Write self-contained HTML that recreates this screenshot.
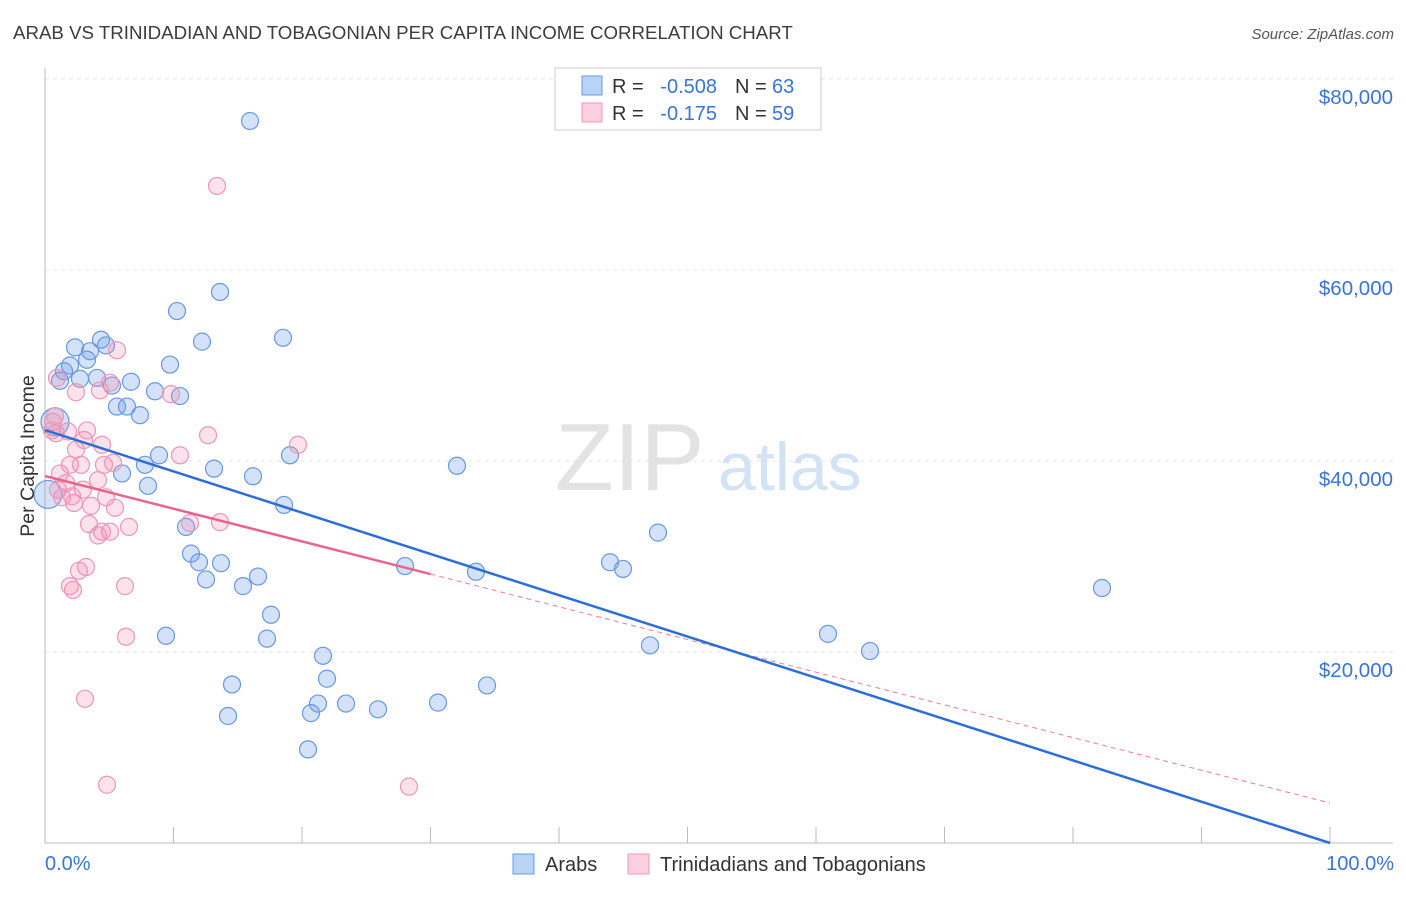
<!DOCTYPE html>
<html><head><meta charset="utf-8"><style>
body{margin:0;background:#fff;font-family:"Liberation Sans",sans-serif;}
svg text{font-family:"Liberation Sans",sans-serif;}
</style></head><body>
<svg id="chart" width="1406" height="892" xmlns="http://www.w3.org/2000/svg">
<text x="13" y="39" font-size="18.7" fill="#3c3c3c">ARAB VS TRINIDADIAN AND TOBAGONIAN PER CAPITA INCOME CORRELATION CHART</text>
<text x="1394" y="39" font-size="15" fill="#555" text-anchor="end" font-style="italic">Source: ZipAtlas.com</text>
<g id="grid"></g>
<text x="555" y="490" font-size="96" fill="#ddd" font-family="Liberation Serif" opacity="0.8">ZIP</text>
<text x="718" y="490" font-size="68" fill="#c9dcf3" opacity="0.8">atlas</text>
<g id="marks"></g>
<text transform="translate(34,456) rotate(-90)" font-size="19.5" fill="#333" text-anchor="middle">Per Capita Income</text>
<text x="45" y="870" font-size="20" fill="#3a74d8">0.0%</text>
<text x="1394" y="870" font-size="20" fill="#3a74d8" text-anchor="end">100.0%</text>
<g>
<rect x="555" y="68" width="266" height="62" fill="#fff" stroke="#ccc"/>
<rect x="582" y="76" width="20" height="19" fill="#b8d3f5" stroke="#6a9be0"/>
<rect x="582" y="103" width="20" height="19" fill="#fbcfe0" stroke="#ee9bb8"/>
<text x="612" y="93" font-size="20" fill="#333">R =</text>
<text x="717" y="93" font-size="20" fill="#3a74d8" text-anchor="end">-0.508</text>
<text x="735" y="93" font-size="20" fill="#333">N =</text>
<text x="772" y="93" font-size="20" fill="#3a74d8">63</text>
<text x="612" y="120" font-size="20" fill="#333">R =</text>
<text x="717" y="120" font-size="20" fill="#3a74d8" text-anchor="end">-0.175</text>
<text x="735" y="120" font-size="20" fill="#333">N =</text>
<text x="772" y="120" font-size="20" fill="#3a74d8">59</text>
</g>
<g>
<rect x="513" y="854" width="21" height="20" fill="#b8d3f5" stroke="#6a9be0"/>
<text x="545" y="871" font-size="20" fill="#333">Arabs</text>
<rect x="628" y="854" width="21" height="20" fill="#fbcfe0" stroke="#ee9bb8"/>
<text x="660" y="871" font-size="20" fill="#333">Trinidadians and Tobagonians</text>
</g>
</svg>
<script>
const yTicks=[20000,40000,60000,80000];
const yTickLabels=["$20,000","$40,000","$60,000","$80,000"];
const arabPx=[250,220,177,283,202,101,106,75,90,170,70,64,87,80,60,97,131,112,155,180,117,127,140,55,290,159,145,214,457,253,122,148,48,284,186,658,191,199,221,610,623,405,476,258,206,243,1102,271,166,267,828,650,870,323,327,232,487,318,346,378,438,228,311,308];
const arabY=[75600,57700,55700,52900,52500,52700,52100,51900,51500,50100,50000,49400,50600,48600,48400,48700,48300,47900,47300,46800,45700,45700,44800,44100,40600,40600,39600,39200,39500,38400,38700,37400,36500,35400,33100,32500,30300,29400,29300,29400,28700,29000,28400,27900,27600,26900,26700,23900,21700,21400,21900,20700,20100,19600,17200,16600,16500,14600,14600,14000,14700,13300,13600,9800];
const pinkPx=[217,117,57,110,171,76,100,55,53,52,56,87,68,208,298,84,102,76,180,70,81,104,113,60,98,66,58,83,106,62,74,72,91,115,220,190,129,89,102,110,98,86,79,125,70,73,126,85,107,409];
const pinkY=[68800,51600,48700,48200,47000,47200,47400,44700,44100,43200,42900,43200,43100,42700,41700,42200,41700,41200,40600,39600,39600,39600,39800,38700,38000,37700,37000,37000,36200,36200,35600,36300,35300,35100,33600,33500,33100,33400,32600,32600,32200,28900,28500,26900,26900,26500,21600,15100,6100,5900];
const blueTrend=[43240,0];
const pinkTrend=[38430,4190];
const pinkSolidEnd=30;
const big=[23,32];
const X0=45,X1=1330,Y0=843,YP=191/20000;
const xs=p=>X0+(p/100)*(X1-X0);
const ys=v=>Y0-v*YP;
const pxToPct=px=>(px-X0)/(X1-X0)*100;
const NS="http://www.w3.org/2000/svg";
const grid=document.getElementById('grid'),marks=document.getElementById('marks');
function mk(tag,attrs,parent){const e=document.createElementNS(NS,tag);for(const k in attrs)e.setAttribute(k,attrs[k]);parent.appendChild(e);return e;}
yTicks.forEach((t,i)=>{
 const l=mk('line',{x1:45,x2:1393,y1:ys(t),y2:ys(t),stroke:'#e3e3e3','stroke-dasharray':'4,4'},grid);
 
 
 const tx=mk('text',{x:1393,y:ys(t)+25,'font-size':20.5,fill:'#3a74d8','text-anchor':'end'},grid);
 tx.textContent=yTickLabels[i];
 
 
});
const ax=mk('line',{x1:45,x2:45,y1:68,y2:843,stroke:'#bbb'},grid);


const bx=mk('line',{x1:45,x2:1393,y1:843,y2:843,stroke:'#bbb'},grid);


for(let i=0;i<=10;i++){
 const t=mk('line',{x1:xs(i*10),x2:xs(i*10),y1:827,y2:843,stroke:'#bbb'},grid);
 
 
}
arabPx.forEach((px,i)=>{
 const c=mk('circle',{cx:xs(pxToPct(px)),cy:ys(arabY[i]),r:big.includes(i)?14:8.5,fill:'rgba(110,160,235,0.3)',stroke:'#6898de','stroke-width':1.2},marks);
 
 
});
pinkPx.forEach((px,i)=>{
 const c=mk('circle',{cx:xs(pxToPct(px)),cy:ys(pinkY[i]),r:8.5,fill:'rgba(245,140,175,0.25)',stroke:'#ee96b6','stroke-width':1.2},marks);
 
 
});
const pv=p=>pinkTrend[0]+(pinkTrend[1]-pinkTrend[0])*p/100;
const pd=mk('line',{x1:xs(pinkSolidEnd),y1:ys(pv(pinkSolidEnd)),x2:xs(100),y2:ys(pv(100)),stroke:'#eb7aa0','stroke-width':1,'stroke-dasharray':'5,4'},marks);


const ps=mk('line',{x1:xs(0),y1:ys(pv(0)),x2:xs(pinkSolidEnd),y2:ys(pv(pinkSolidEnd)),stroke:'#e8648f','stroke-width':2.5},marks);


const bl=mk('line',{x1:xs(0),y1:ys(blueTrend[0]),x2:xs(100),y2:ys(blueTrend[1]),stroke:'#2b6fd6','stroke-width':2.5},marks);


</script>
</body></html>
